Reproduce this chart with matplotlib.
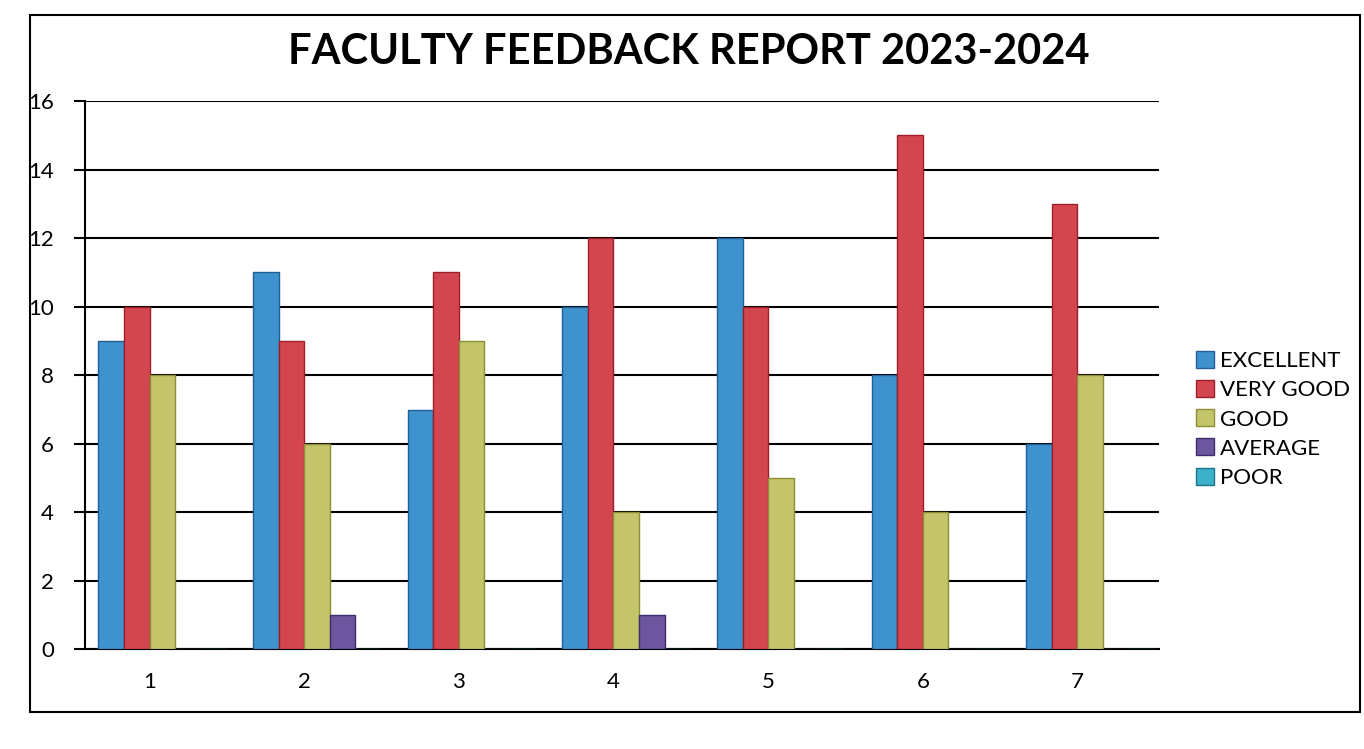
import numpy as np
import matplotlib.pyplot as plt
from matplotlib.patches import Rectangle

plt.rcParams['font.family'] = ['Lato', 'DejaVu Sans']

# faculty index (x categories)
faculty = ['1', '2', '3', '4', '5', '6', '7']

# feedback counts per rating
excellent = [9, 11, 7, 10, 12, 8, 6]
very_good = [10, 9, 11, 12, 10, 15, 13]
good = [8, 6, 9, 4, 5, 4, 8]
average = [0, 1, 0, 1, 0, 0, 0]
poor = [0, 0, 0, 0, 0, 0, 0]

series = [
    ('EXCELLENT', excellent, '#3e93cf', '#1f5f95'),
    ('VERY GOOD', very_good, '#d4464f', '#9c1f28'),
    ('GOOD', good, '#c4c56a', '#8d8e35'),
    ('AVERAGE', average, '#6c56a0', '#3e2d6b'),
    ('POOR', poor, '#3bb1ca', '#1d7688'),
]

fig = plt.figure(figsize=(13.64, 7.49), dpi=100)
ax = fig.add_axes([0.062, 0.133, 0.788, 0.732])

x = np.arange(len(faculty))
bar_w = 0.165
for i, (name, vals, col, edge) in enumerate(series):
    offs = (i - 1.5) * bar_w
    ax.bar(x + offs, vals, width=bar_w, color=col, edgecolor=edge,
           linewidth=1.0, label=name, zorder=3)

ax.set_ylim(0, 16)
ax.set_xlim(-0.42, 6.53)
ax.set_yticks(range(0, 17, 2))
ax.set_xticks(x)
ax.set_xticklabels(faculty)
ax.yaxis.grid(True, color='black', linewidth=1.5, zorder=0)
ax.set_axisbelow(True)

for s in ['top', 'right']:
    ax.spines[s].set_visible(False)
ax.spines['left'].set_linewidth(1.5)
ax.spines['bottom'].set_linewidth(1.5)
ax.tick_params(axis='y', length=8, width=1.5, labelsize=16, pad=14)
ax.tick_params(axis='x', length=0, labelsize=16, pad=16)

fig.text(0.505, 0.93, 'FACULTY FEEDBACK REPORT 2023-2024',
         ha='center', va='center', fontsize=30, fontweight='bold')

fig.legend(loc='center left', bbox_to_anchor=(0.862, 0.44), frameon=False,
           fontsize=16, handlelength=0.8, handleheight=0.8,
           handletextpad=0.3, labelspacing=0.4)

# outer chart border
fig.patches.append(Rectangle((0.022, 0.05), 0.975, 0.93, transform=fig.transFigure,
                             fill=False, edgecolor='black', linewidth=1.5))

fig.savefig('out.png', dpi=100)
